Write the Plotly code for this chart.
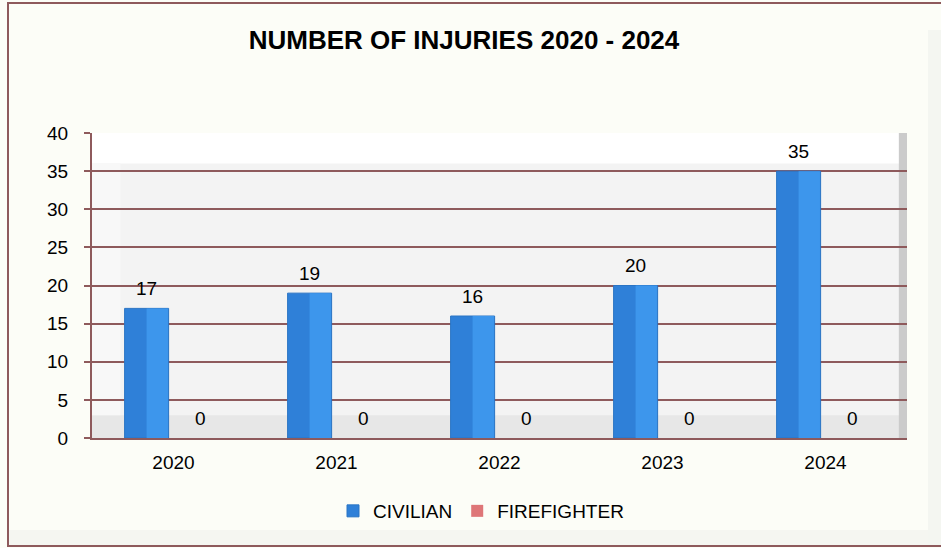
import plotly.graph_objects as go

years = ["2020", "2021", "2022", "2023", "2024"]
civilian = [17, 19, 16, 20, 35]
firefighter = [0, 0, 0, 0, 0]
y_ticks = [0, 5, 10, 15, 20, 25, 30, 35, 40]

W, H = 941, 548
ML, MR, MT, MB = 92, 34, 133, 110
PW, PH = W - ML - MR, H - MT - MB

def px(x):
    return (x - ML) / PW

def py(y):
    return (H - MB - y) / PH

FONT = "Liberation Sans, Arial, sans-serif"
GRID = "#8E5A5C"
BAR_W = 0.27
OFFS = [-0.30, 0.03]
xpos = list(range(len(years)))

fig = go.Figure()
fig.add_trace(go.Bar(
    name="CIVILIAN", x=xpos, y=civilian, width=BAR_W, offset=OFFS[0],
    marker=dict(color="#2F80D8", line=dict(color="#2A74C4", width=1)),
))
# lighter right-hand face of the bevelled civilian bars
fig.add_trace(go.Bar(
    name="CIVILIAN", x=xpos, y=civilian, width=BAR_W / 2 - 0.004,
    offset=OFFS[0] + BAR_W / 2, showlegend=False, hoverinfo="skip",
    marker=dict(color="#3D96EC", line=dict(width=0)),
))
fig.add_trace(go.Bar(
    name="FIREFIGHTER", x=xpos, y=firefighter, width=BAR_W, offset=OFFS[1],
    marker=dict(color="#DE7678", line=dict(width=0)),
))

ann = []
for series, off in ((civilian, OFFS[0]), (firefighter, OFFS[1])):
    for xi, v in zip(xpos, series):
        ann.append(dict(
            x=xi + off + BAR_W / 2, y=v, xref="x", yref="y", text=str(v), showarrow=False,
            yshift=20, font=dict(family=FONT, size=19, color="#000000"),
        ))

shapes = [
    # plot-area 3D frame shading
    dict(type="rect", xref="paper", yref="paper", x0=0, x1=1, y0=0.90, y1=1,
         fillcolor="#FFFFFF", line=dict(width=0), layer="below"),
    dict(type="rect", xref="paper", yref="paper", x0=0, x1=1, y0=0, y1=0.075,
         fillcolor="#E7E7E7", line=dict(width=0), layer="below"),
    dict(type="rect", xref="paper", yref="paper", x0=0, x1=0.035, y0=0.075, y1=0.90,
         fillcolor="#F8F8F8", line=dict(width=0), layer="below"),
    dict(type="rect", xref="paper", yref="paper", x0=0.99, x1=1, y0=0, y1=1,
         fillcolor="#CBCBCB", line=dict(width=0), layer="below"),
    # chart outer background gradient hints
    dict(type="rect", xref="paper", yref="paper", x0=px(9), x1=px(941), y0=py(545), y1=py(530),
         fillcolor="#F5F6F1", line=dict(width=0), layer="below"),
    dict(type="rect", xref="paper", yref="paper", x0=px(928), x1=px(941), y0=py(545), y1=py(30),
         fillcolor="#F4F6F1", line=dict(width=0), layer="below"),
    # outer border
    dict(type="rect", xref="paper", yref="paper", x0=px(8), x1=px(945), y0=py(546), y1=py(3),
         line=dict(color="#8E5A5C", width=2), fillcolor="rgba(0,0,0,0)", layer="above"),
]

fig.update_layout(
    width=W, height=H,
    margin=dict(l=ML, r=MR, t=MT, b=MB),
    paper_bgcolor="#FCFDF7",
    plot_bgcolor="#F3F3F3",
    font=dict(family=FONT, size=19, color="#000000"),
    title=dict(text="<b>NUMBER OF INJURIES 2020 - 2024</b>", x=464 / W, xref="container",
               xanchor="center", y=1 - 40 / H, yref="container", yanchor="middle",
               font=dict(family=FONT, size=26, color="#000000")),
    showlegend=True,
    barmode="overlay",
    legend=dict(orientation="h", x=px(481), xanchor="center", y=py(511), yanchor="middle",
                font=dict(family=FONT, size=19), bgcolor="rgba(0,0,0,0)", itemwidth=30),
    xaxis=dict(range=[-0.5, len(years) - 0.5], tickvals=xpos, ticktext=years,
               showgrid=False, showline=True, linecolor=GRID, linewidth=2,
               ticks="", ticklabelstandoff=6, tickfont=dict(size=19), zeroline=False),
    yaxis=dict(range=[0, 40], tickvals=y_ticks, showgrid=True, gridcolor=GRID, gridwidth=2,
               showline=True, linecolor=GRID, linewidth=2, ticks="outside", ticklen=6,
               tickcolor=GRID, tickwidth=2, ticklabelstandoff=12, zeroline=False,
               tickfont=dict(size=19)),
    annotations=ann,
    shapes=shapes,
)

fig.write_html("out.html", config={"displayModeBar": False},
               post_script="document.body.style.margin='0px';")
